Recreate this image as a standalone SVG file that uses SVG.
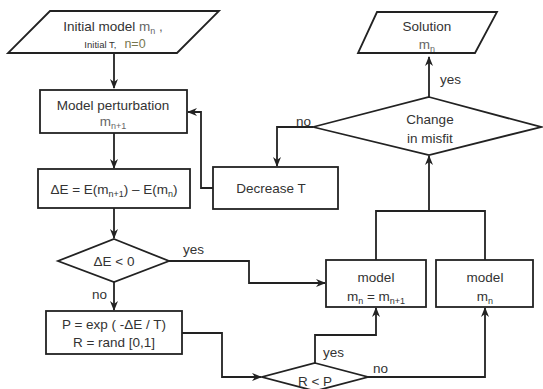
<svg xmlns="http://www.w3.org/2000/svg" width="543" height="389" viewBox="0 0 543 389">
<defs>
<style>
.s{fill:#fff;stroke:#222;stroke-width:1.8}
.c{fill:none;stroke:#222;stroke-width:1.8}
text{font-family:"Liberation Sans",Arial,sans-serif;font-size:13.5px;fill:#333;text-anchor:middle}
.m{fill:#666}
.lbl{text-anchor:start}
</style>
<marker id="a" markerWidth="10" markerHeight="8" refX="9" refY="4" orient="auto" markerUnits="userSpaceOnUse">
<path d="M0,0 L10,4 L0,8 L3,4 z" fill="#222"/>
</marker>
</defs>
<rect width="543" height="389" fill="#fff"/>
<g id="connectors">
<path class="c" d="M114,53 V88" marker-end="url(#a)"/>
<path class="c" d="M114,133 V168" marker-end="url(#a)"/>
<path class="c" d="M114,208 V238" marker-end="url(#a)"/>
<path class="c" d="M114,281 V310" marker-end="url(#a)"/>
<path class="c" d="M169,261 H249 V283 H325" marker-end="url(#a)"/>
<path class="c" d="M182,333 H222 V377 H261" marker-end="url(#a)"/>
<path class="c" d="M315,363 V335 H376 V308" marker-end="url(#a)"/>
<path class="c" d="M368,377 H485 V308" marker-end="url(#a)"/>
<path class="c" d="M376,260 V211 H485 V260"/>
<path class="c" d="M429,211 V156" marker-end="url(#a)"/>
<path class="c" d="M429,97 V57" marker-end="url(#a)"/>
<path class="c" d="M313,127 H277 V166" marker-end="url(#a)"/>
<path class="c" d="M213,188 H201 V112 H188" marker-end="url(#a)"/>
<text class="lbl" x="183" y="254">yes</text>
<text class="lbl" x="92" y="299">no</text>
<text class="lbl" x="323" y="357">yes</text>
<text class="lbl" x="373" y="373">no</text>
<text class="lbl" x="296" y="126">no</text>
<text class="lbl" x="440" y="84">yes</text>
</g>
<g id="initial">
<polygon class="s" points="50,11 219,11 177,53 8,53"/>
<text x="113" y="31">Initial model <tspan class="m">m<tspan font-size="9" dy="3">n</tspan><tspan dy="-3"> ,</tspan></tspan></text>
<text x="115" y="48"><tspan font-size="9.5">Initial T,</tspan><tspan dx="8" font-size="12.5" fill="#77774f">n=0</tspan></text>
</g>
<g id="perturbation">
<rect class="s" x="40" y="90" width="147" height="43"/>
<text x="113" y="110">Model perturbation</text>
<text class="m" x="113" y="126">m<tspan font-size="9" dy="3">n+1</tspan></text>
</g>
<g id="deltaE">
<rect class="s" x="38" y="169" width="152" height="39"/>
<text x="114" y="194">ΔE = E(m<tspan font-size="9" dy="3">n+1</tspan><tspan dy="-3">) – E(m</tspan><tspan font-size="9" dy="3">n</tspan><tspan dy="-3">)</tspan></text>
</g>
<g id="dE-test">
<polygon class="s" points="114,239 169,261 114,282 58,261"/>
<text x="114" y="266">ΔE &lt; 0</text>
</g>
<g id="prob">
<rect class="s" x="46" y="311" width="136" height="43"/>
<text x="114" y="329">P = exp ( -ΔE / T)</text>
<text x="114" y="347">R = rand [0,1]</text>
</g>
<g id="decreaseT">
<rect class="s" x="213" y="167" width="125" height="42"/>
<text x="271" y="193">Decrease T</text>
</g>
<g id="misfit">
<polygon class="s" points="429,97 541,127 429,155 313,127"/>
<text x="430" y="124">Change</text>
<text x="430" y="143">in misfit</text>
</g>
<g id="solution">
<polygon class="s" points="377,12 497,12 475,53 358,53"/>
<text x="427" y="31">Solution</text>
<text class="m" x="427" y="49">m<tspan font-size="9" dy="3">n</tspan></text>
</g>
<g id="model-accept">
<rect class="s" x="326" y="260" width="100" height="47"/>
<text x="376" y="282">model</text>
<text x="376" y="301">m<tspan font-size="9" dy="3">n</tspan><tspan dy="-3"> = m</tspan><tspan font-size="9" dy="3">n+1</tspan></text>
</g>
<g id="model-keep">
<rect class="s" x="436" y="260" width="97" height="47"/>
<text x="485" y="282">model</text>
<text x="485" y="301">m<tspan font-size="9" dy="3">n</tspan></text>
</g>
<g id="RP-test">
<polygon class="s" points="315,363 368,377 315,391 262,377"/>
<text x="315" y="386">R &lt; P</text>
</g>
</svg>
